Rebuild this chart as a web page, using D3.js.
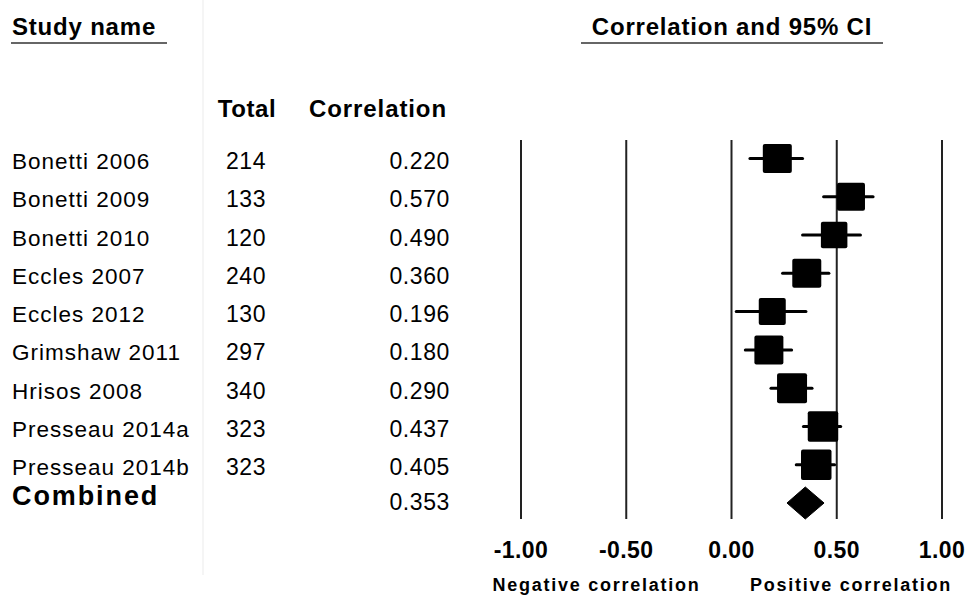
<!DOCTYPE html>
<html>
<head>
<meta charset="utf-8">
<script src="https://cdn.jsdelivr.net/npm/d3@7"></script>
<style>
  html, body { margin: 0; padding: 0; background: #fff; }
  svg { display: block; font-family: "Liberation Sans", Arial, sans-serif; }
</style>
</head>
<body>
<svg id="chart" width="968" height="596"></svg>
<script>
// ---- data ----
const studies = ["Bonetti 2006", "Bonetti 2009", "Bonetti 2010", "Eccles 2007", "Eccles 2012",
                 "Grimshaw 2011", "Hrisos 2008", "Presseau 2014a", "Presseau 2014b"];
const totals = [214, 133, 120, 240, 130, 297, 340, 323, 323];
const correlations = [0.220, 0.570, 0.490, 0.360, 0.196, 0.180, 0.290, 0.437, 0.405];
const lowerCI = [0.09, 0.44, 0.34, 0.245, 0.025, 0.068, 0.19, 0.344, 0.31];
const upperCI = [0.34, 0.675, 0.615, 0.465, 0.356, 0.288, 0.385, 0.521, 0.492];
const weights = [29, 28, 26.5, 29, 27, 29, 30, 30.5, 30.5];
const combined = { label: "Combined", r: 0.353, lo: 0.266, hi: 0.442 };
const tickValues = [-1, -0.5, 0, 0.5, 1];
const tickLabels = ["-1.00", "-0.50", "0.00", "0.50", "1.00"];
const sideLabels = ["Negative correlation", "Positive correlation"];

// ---- layout ----
const svg = d3.select("#chart");
const x = d3.scaleLinear().domain([-1, 1]).range([520.5, 941.5]);
const rowNames = studies.concat([combined.label]);
const y = d3.scalePoint().domain(rowNames).range([158.5, 503]);
const sz = d3.scaleIdentity();

// faint separator
svg.append("line").attr("x1", 203).attr("x2", 203).attr("y1", 0).attr("y2", 575)
  .attr("stroke", "#f2f2f2").attr("stroke-width", 1.5);

// headers
svg.append("text").attr("x", 12).attr("y", 35).text("Study name")
  .attr("font-size", 24).attr("font-weight", "bold").attr("letter-spacing", 0.8);
svg.append("line").attr("x1", 11).attr("x2", 167).attr("y1", 43).attr("y2", 43)
  .attr("stroke", "#333").attr("stroke-width", 1.6);

svg.append("text").attr("x", 732).attr("y", 35).attr("text-anchor", "middle")
  .text("Correlation and 95% CI")
  .attr("font-size", 24).attr("font-weight", "bold").attr("letter-spacing", 0.8);
svg.append("line").attr("x1", 581).attr("x2", 883).attr("y1", 43).attr("y2", 43)
  .attr("stroke", "#333").attr("stroke-width", 1.6);

svg.append("text").attr("x", 247).attr("y", 117).attr("text-anchor", "middle").text("Total")
  .attr("font-size", 24).attr("font-weight", "bold").attr("letter-spacing", 0.6);
svg.append("text").attr("x", 447).attr("y", 117).attr("text-anchor", "end").text("Correlation")
  .attr("font-size", 24).attr("font-weight", "bold").attr("letter-spacing", 0.9);

// axis with gridlines
const axis = d3.axisBottom(x).tickValues(tickValues).tickFormat((d, i) => tickLabels[i])
  .tickSize(-379).tickSizeOuter(0);
const gAxis = svg.append("g").attr("transform", "translate(0,519)").call(axis);
gAxis.select(".domain").remove();
gAxis.selectAll(".tick line").attr("stroke", "#222").attr("stroke-width", 2);
gAxis.selectAll(".tick text")
  .attr("y", 39).attr("dy", 0)
  .attr("fill", "#000")
  .attr("font-family", "'Liberation Sans', Arial, sans-serif")
  .attr("font-size", 23).attr("font-weight", "bold").attr("letter-spacing", 0.4);

// side labels
svg.append("text").attr("x", 596.5).attr("y", 591).attr("text-anchor", "middle").text(sideLabels[0])
  .attr("font-size", 18).attr("font-weight", "bold").attr("letter-spacing", 1.75);
svg.append("text").attr("x", 851).attr("y", 591).attr("text-anchor", "middle").text(sideLabels[1])
  .attr("font-size", 18).attr("font-weight", "bold").attr("letter-spacing", 1.75);

// rows
const rows = studies.map((s, i) => ({ name: s, n: totals[i], r: correlations[i], lo: lowerCI[i], hi: upperCI[i], w: weights[i] }));

const g = svg.append("g");
const row = g.selectAll(".row").data(rows).join("g").attr("class", "row");

row.append("text").attr("x", 12).attr("y", d => y(d.name) + 10.5).text(d => d.name)
  .attr("font-size", 22.5).attr("letter-spacing", 1.0);
row.append("text").attr("x", 246).attr("y", d => y(d.name) + 10.5).attr("text-anchor", "middle")
  .text(d => d.n).attr("font-size", 23).attr("letter-spacing", 0.6);
row.append("text").attr("x", 450).attr("y", d => y(d.name) + 10.5).attr("text-anchor", "end")
  .text(d => d3.format(".3f")(d.r)).attr("font-size", 23).attr("letter-spacing", 0.6);

row.append("line")
  .attr("x1", d => x(d.lo)).attr("x2", d => x(d.hi))
  .attr("y1", d => y(d.name)).attr("y2", d => y(d.name))
  .attr("stroke", "#000").attr("stroke-width", 3).attr("stroke-linecap", "round");
row.append("rect")
  .attr("x", d => x(d.r) - sz(d.w) / 2).attr("y", d => y(d.name) - sz(d.w) / 2)
  .attr("width", d => sz(d.w)).attr("height", d => sz(d.w))
  .attr("rx", 2).attr("fill", "#000");

// combined
const cy = y(combined.label);
svg.append("text").attr("x", 12).attr("y", cy + 2).text(combined.label)
  .attr("font-size", 27).attr("font-weight", "bold").attr("letter-spacing", 1.9);
svg.append("text").attr("x", 450).attr("y", cy + 7).attr("text-anchor", "end")
  .text(d3.format(".3f")(combined.r)).attr("font-size", 23).attr("letter-spacing", 0.6);
svg.append("path")
  .attr("d", `M${x(combined.lo)},${cy} L${x(combined.r)},${cy - 16} L${x(combined.hi)},${cy} L${x(combined.r)},${cy + 16} Z`)
  .attr("fill", "#000").attr("stroke", "#000").attr("stroke-width", 1).attr("stroke-linejoin", "round");
</script>
</body>
</html>
